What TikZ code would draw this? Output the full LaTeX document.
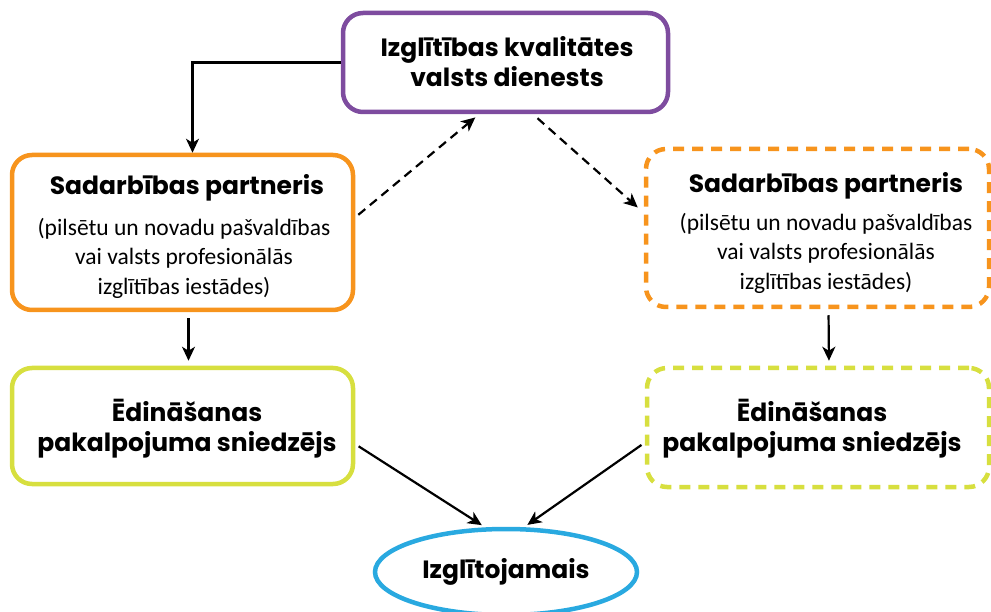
\documentclass[tikz,border=0pt]{standalone}
\usepackage{fontspec}
\setmainfont{Carlito}
\newfontfamily\headfont{Poppins}
\usetikzlibrary{arrows.meta,shapes.geometric}
\definecolor{cpurple}{HTML}{7E4C9F}
\definecolor{corange}{HTML}{F7941D}
\definecolor{cgreen}{HTML}{D7DF3F}
\definecolor{cblue}{HTML}{29A9E0}
\tikzset{
  box/.style={draw, line width=4.5pt, rounded corners=20pt, fill=white, align=center, inner sep=0pt},
  dashedbox/.style={box, dash pattern=on 11pt off 8pt},
  head/.style={align=center, inner sep=0pt, font=\headfont\bfseries\fontsize{25}{30}\selectfont},
  sub/.style={align=center, inner sep=0pt, font=\fontsize{23.5}{29.5}\selectfont},
  arr/.style={line width=2.2pt, -{Stealth[length=14pt,width=13pt,inset=4pt]}},
  darr/.style={arr, dash pattern=on 9pt off 6pt},
}
\begin{document}
\begin{tikzpicture}[x=1pt,y=-1pt]
\useasboundingbox (0,0) rectangle (991,612);
% top box
\node[box, draw=cpurple, minimum width=325pt, minimum height=99pt] (top) at (505.5,62.5) {};
\node[head] (topt) at (507,62) {Izglītības kvalitātes\\ valsts dienests};
% left partner
\node[box, draw=corange, minimum width=341pt, minimum height=155pt] (lo) at (182.5,232.5) {};
\node[head] (lot) at (187,188) {Sadarbības partneris};
\node[sub] (los) at (184,258) {(pilsētu un novadu pašvaldības\\ vai valsts profesionālās\\ izglītības iestādes)};
% right partner
\node[dashedbox, draw=corange, minimum width=343pt, minimum height=158pt] (ro) at (817.5,228) {};
\node[head] (rot) at (826,186) {Sadarbības partneris};
\node[sub] (ros) at (826,253) {(pilsētu un novadu pašvaldības\\ vai valsts profesionālās\\ izglītības iestādes)};
% left provider
\node[box, draw=cgreen, minimum width=341pt, minimum height=116pt] (lg) at (182.5,426) {};
\node[head] (lgt) at (187,429) {\fontsize{25}{35}\selectfont Ēdināšanas\\ pakalpojuma sniedzējs};
% right provider
\node[dashedbox, draw=cgreen, minimum width=342pt, minimum height=119pt] (rg) at (818,427.5) {};
\node[head] (rgt) at (812,429) {\fontsize{25}{35}\selectfont Ēdināšanas\\ pakalpojuma sniedzējs};
% learner
\node[ellipse, draw=cblue, line width=4.5pt, minimum width=262pt, minimum height=86pt, inner sep=0pt, font=\headfont\bfseries\fontsize{25}{30}\selectfont] (el) at (506,572) {Izglītojamais};
% connectors
\draw[arr] (top.west) -| ([xshift=10pt]lo.north) ;
\draw[darr, shorten <=4pt, shorten >=5pt] (lo.5) -- (top.243);
\draw[darr, shorten <=6pt, shorten >=8pt] (top.298) -- (ro.175);
\draw[arr, shorten <=6pt, shorten >=5pt] ([xshift=6pt]lo.south) -- ([xshift=6pt]lg.north);
\draw[arr, shorten <=6pt, shorten >=5pt] ([xshift=11pt]ro.south) -- ([xshift=11pt]rg.north);
\draw[arr, shorten <=4pt, shorten >=4pt] (lg.-6) -- (el.115);
\draw[arr, shorten <=4pt, shorten >=4pt] (rg.185) -- (el.68);
\end{tikzpicture}
\end{document}
